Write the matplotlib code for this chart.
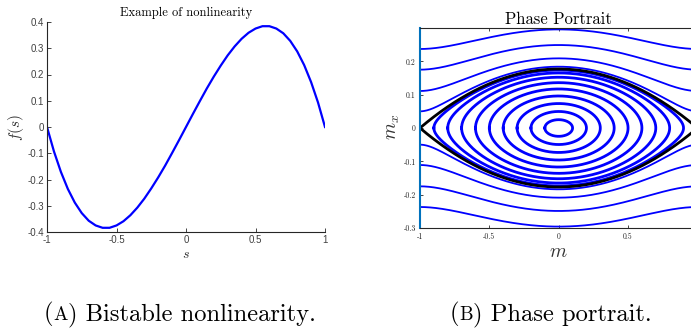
import numpy as np
import matplotlib
matplotlib.use('Agg')
import matplotlib.pyplot as plt

plt.rcParams['font.family'] = 'cmr10'
plt.rcParams['mathtext.fontset'] = 'cm'
plt.rcParams['axes.unicode_minus'] = False
plt.rcParams['axes.formatter.use_mathtext'] = True

# (A) nonlinearity f(s)
s_vals = [-1.0, -0.95, -0.9, -0.85, -0.8, -0.75, -0.7, -0.65, -0.6, -0.55, -0.5,
          -0.45, -0.4, -0.35, -0.3, -0.25, -0.2, -0.15, -0.1, -0.05, 0.0,
          0.05, 0.1, 0.15, 0.2, 0.25, 0.3, 0.35, 0.4, 0.45, 0.5,
          0.55, 0.6, 0.65, 0.7, 0.75, 0.8, 0.85, 0.9, 0.95, 1.0]
f_vals = [0.0, -0.093, -0.171, -0.236, -0.288, -0.328, -0.357, -0.375, -0.384, -0.384, -0.375,
          -0.359, -0.336, -0.307, -0.273, -0.234, -0.192, -0.147, -0.099, -0.050, 0.0,
          0.050, 0.099, 0.147, 0.192, 0.234, 0.273, 0.307, 0.336, 0.359, 0.375,
          0.384, 0.384, 0.375, 0.357, 0.328, 0.288, 0.236, 0.171, 0.093, 0.0]
s_ticks = [-1, -0.5, 0, 0.5, 1]
s_ticklabels = ['-1', '-0.5', '0', '0.5', '1']
f_ticks = [-0.4, -0.3, -0.2, -0.1, 0, 0.1, 0.2, 0.3, 0.4]
f_ticklabels = ['-0.4', '-0.3', '-0.2', '-0.1', '0', '0.1', '0.2', '0.3', '0.4']

# (B) phase portrait: stiffness read from separatrix height (0.177 at m=0)
stiff = 2 * 0.177 ** 2
closed_turning = [0.1, 0.2, 0.3, 0.4, 0.5, 0.6, 0.7, 0.8, 0.9]   # m where closed orbits cross mx=0
open_edge = [0.05, 0.111, 0.175, 0.237]                          # |mx| of open orbits at m=-1
m_ticks = [-1, -0.5, 0, 0.5]
m_ticklabels = ['-1', '-0.5', '0', '0.5']
mx_ticks = [-0.3, -0.2, -0.1, 0, 0.1, 0.2]
mx_ticklabels = ['-0.3', '-0.2', '-0.1', '0', '0.1', '0.2']

W, H = 691, 331
fig = plt.figure(figsize=(W / 100, H / 100), dpi=100)

# ---- left panel
ax1 = fig.add_axes([47 / W, 1 - 232 / H, 278 / W, 210 / H])
ax1.plot(s_vals, f_vals, color='#0000ff', lw=1.6)
ax1.set_xlim(-1, 1)
ax1.set_ylim(-0.4, 0.4)
ax1.spines['top'].set_visible(False)
ax1.spines['right'].set_visible(False)
for sp in ['left', 'bottom']:
    ax1.spines[sp].set_color('#262626')
    ax1.spines[sp].set_linewidth(0.8)
ax1.set_xticks(s_ticks)
ax1.set_xticklabels(s_ticklabels)
ax1.set_yticks(f_ticks)
ax1.set_yticklabels(f_ticklabels)
ax1.tick_params(direction='in', length=3, width=0.6, colors='#262626', labelsize=7, pad=2)
for lab in ax1.get_xticklabels() + ax1.get_yticklabels():
    lab.set_family('Liberation Sans')
    lab.set_color('#404040')
ax1.set_title('Example of nonlinearity', fontsize=9, pad=4)
fig.text(16 / W, 1 - 127 / H, r'$f(s)$', fontsize=11, rotation=90, ha='center', va='center', color='#333333')
fig.text(186 / W, 1 - 255 / H, r'$s$', fontsize=10, ha='center', va='center', color='#333333')

# ---- right panel (axes runs to m=1, cropped by the figure edge)
x0 = 420
x1 = 697.4
ax2 = fig.add_axes([x0 / W, 1 - 228 / H, (x1 - x0) / W, 200 / H])

for a in closed_turning:
    phi = np.linspace(-np.pi / 2, np.pi / 2, 300)
    m = a * np.sin(phi)
    mx = a * np.cos(phi) * np.sqrt(stiff * (1 - (a ** 2 + m ** 2) / 2))
    ax2.plot(np.r_[m, m[::-1]], np.r_[mx, -mx[::-1]], color='#0000ff', lw=2.0)

for b in open_edge:
    m = np.linspace(-1, 1, 400)
    mx = np.sqrt(b ** 2 + stiff * (0.25 - m ** 2 / 2 + m ** 4 / 4) * 2)
    ax2.plot(m, mx, color='#0000ff', lw=1.3)
    ax2.plot(m, -mx, color='#0000ff', lw=1.3)

m = np.linspace(-1, 1, 400)
sep = np.sqrt(stiff / 2) * (1 - m ** 2)
ax2.plot(m, sep, color='black', lw=2.0)
ax2.plot(m, -sep, color='black', lw=2.0)

ax2.set_xlim(-1, 1)
ax2.set_ylim(-0.3, 0.3)
ax2.spines['right'].set_visible(False)
ax2.spines['top'].set_color('#262626')
ax2.spines['bottom'].set_color('#262626')
ax2.spines['left'].set_color('#0072bd')
ax2.spines['left'].set_linewidth(1.5)
ax2.set_xticks(m_ticks)
ax2.set_xticklabels(m_ticklabels)
ax2.set_yticks(mx_ticks)
ax2.set_yticklabels(mx_ticklabels)
ax2.tick_params(direction='in', length=2.5, width=0.6, colors='#262626', labelsize=5.5, pad=3,
                top=True)
ax2.set_title('Phase Portrait', fontsize=12, pad=3)
fig.text(393 / W, 1 - 127 / H, r'$m_x$', fontsize=14, rotation=90, ha='center', va='center', color='#333333')
fig.text(558 / W, 1 - 252 / H, r'$m$', fontsize=14, ha='center', va='center', color='#333333')


# ---- captions, letter in small caps
def caption(x_left, y_base, letter, rest, size):
    renderer = fig.canvas.get_renderer()
    x = x_left
    for txt, fs in [('(', size), (letter, size * 0.78), (') ' + rest, size)]:
        t = fig.text(x / W, 1 - y_base / H, txt, fontsize=fs, ha='left', va='baseline')
        x += t.get_window_extent(renderer).width


caption(44, 320, 'A', 'Bistable nonlinearity.', 17.7)
caption(450, 320, 'B', 'Phase portrait.', 17.7)

fig.savefig('out.png', dpi=100)
